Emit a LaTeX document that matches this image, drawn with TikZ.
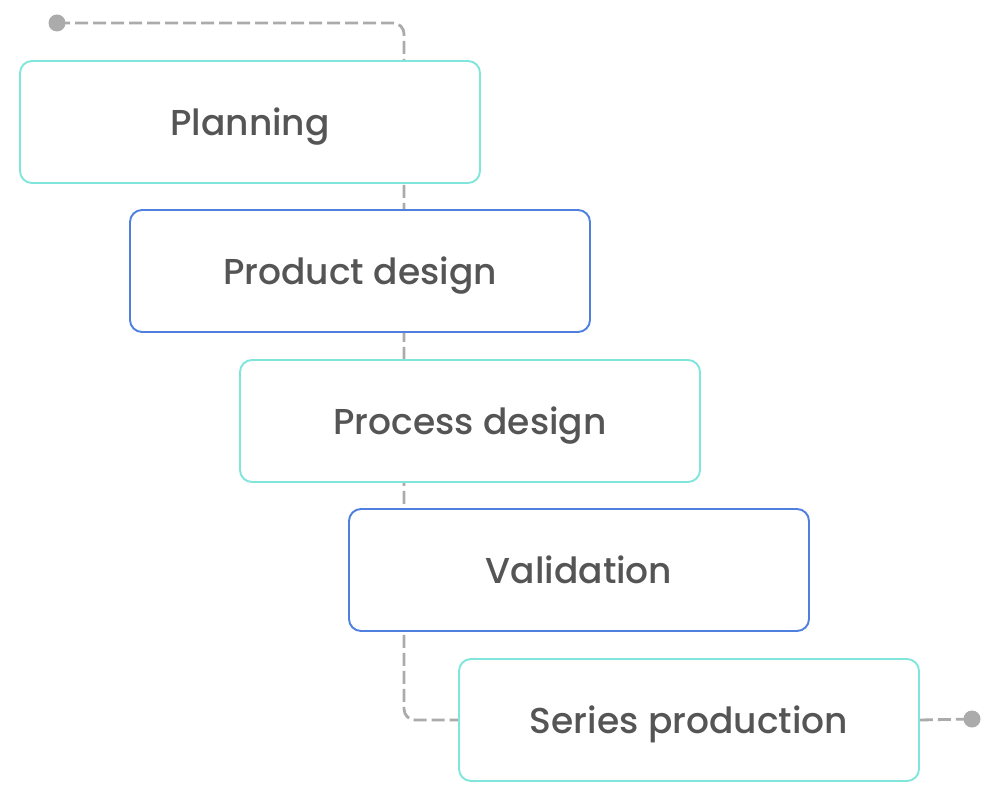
\documentclass[tikz,border=0pt]{standalone}
\usepackage{fontspec}
\setmainfont{Poppins}[UprightFont=* Medium]
\usetikzlibrary{positioning,backgrounds}
\definecolor{tealline}{HTML}{80E6DC}
\definecolor{blueline}{HTML}{4F7FDF}
\definecolor{flowgray}{HTML}{ABABAB}
\definecolor{labelgray}{HTML}{555555}

\begin{document}
\begin{tikzpicture}[stage/.style={draw, fill=white, rounded corners=0.24cm, line width=1.1pt, minimum width=9.2cm, minimum height=2.44cm, align=center, text depth=0pt, text=labelgray, font=\fontsize{20.5}{25}\selectfont},
teal/.style={stage, draw=tealline}, blue/.style={stage, draw=blueline},
flow/.style={draw=flowgray, line width=1.6pt, dash pattern=on 0.26cm off 0.1cm}]
\useasboundingbox (0,0) rectangle (20,-16);
\node[teal] (plan) at (5,-2.44) {Planning};
\node[blue] (product) at (7.2,-5.42) {Product design};
\node[teal] (process) at (9.4,-8.42) {Process design};
\node[blue] (valid) at (11.58,-11.4) {Validation};
\node[teal] (series) at (13.78,-14.4) {Series production};
\coordinate (start) at (1.14,-0.46);
\coordinate (stop) at (19.44,-14.38);
% dashed flow behind the boxes
\begin{pgfonlayer}{background}
\draw[flow, rounded corners=0.22cm] (start) -| ([xshift=-1.08cm]series.west) -- (series.west);
\draw[flow] (series.east) -- (stop);
\fill[flowgray] (start) circle (0.17cm);
\fill[flowgray] (stop) circle (0.17cm);
\end{pgfonlayer}
\end{tikzpicture}
\end{document}
